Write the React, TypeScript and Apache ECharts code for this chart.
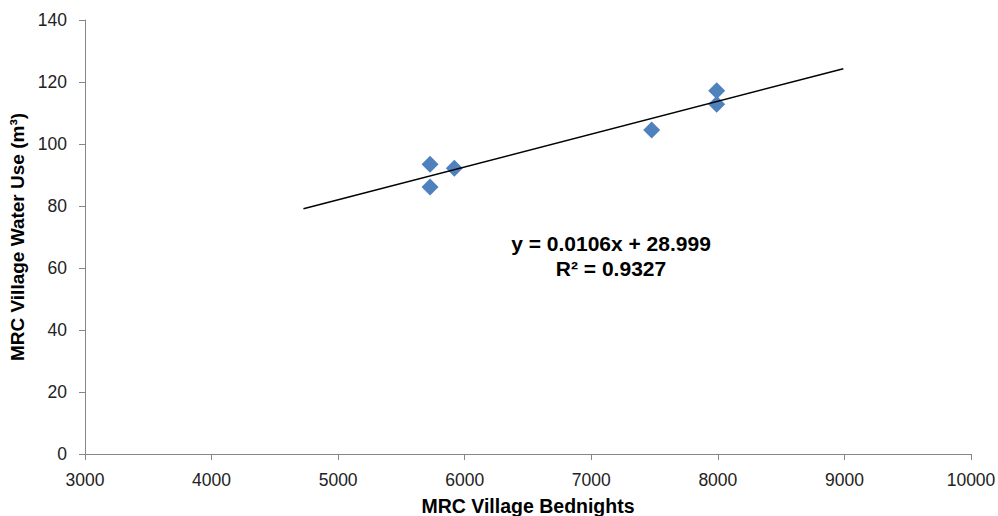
import React, { useEffect, useRef } from "react";
import * as echarts from "echarts";

const bednights = [5726, 5726, 5918, 7477, 7991, 7991];
const waterUse = [93.5, 86.1, 92.2, 104.5, 117.2, 112.8];
const trendSlope = 0.0106;
const trendIntercept = 28.999;
const trendX = [4726, 8991];
const equationLines = ["y = 0.0106x + 28.999", "R² = 0.9327"];

export default function App() {
  const ref = useRef<HTMLDivElement>(null);
  useEffect(() => {
    if (!ref.current) return;
    const chart = echarts.init(ref.current, null, { renderer: "svg" });
    const font = "'Liberation Sans', Arial, sans-serif";
    chart.setOption({
      animation: false,
      backgroundColor: "#ffffff",
      grid: { left: 85, right: 27, top: 20, bottom: 62, containLabel: false, outerBoundsMode: "none" },
      xAxis: {
        type: "value",
        min: 3000,
        max: 10000,
        interval: 1000,
        name: "MRC Village Bednights",
        nameLocation: "middle",
        nameGap: 42,
        nameTextStyle: { fontFamily: font, fontSize: 19.5, fontWeight: "bold", color: "#000" },
        axisLine: { show: true, lineStyle: { color: "#868686", width: 1 } },
        axisTick: { show: true, length: 6, lineStyle: { color: "#868686" } },
        axisLabel: { fontFamily: font, fontSize: 17.5, color: "#222", margin: 17, formatter: (v: number) => String(v) },
        splitLine: { show: false },
      },
      yAxis: {
        type: "value",
        min: 0,
        max: 140,
        interval: 20,
        name: "MRC Village Water Use (m³)",
        nameLocation: "middle",
        nameGap: 56,
        nameTextStyle: { fontFamily: font, fontSize: 19, fontWeight: "bold", color: "#000" },
        axisLine: { show: true, lineStyle: { color: "#868686", width: 1 } },
        axisTick: { show: true, length: 6, lineStyle: { color: "#868686" } },
        axisLabel: { fontFamily: font, fontSize: 17.5, color: "#222", margin: 18 },
        splitLine: { show: false },
      },
      series: [
        {
          type: "line",
          data: trendX.map((x) => [x, trendSlope * x + trendIntercept]),
          symbol: "none",
          lineStyle: { color: "#000", width: 1.5 },
          silent: true,
          z: 3,
        },
        {
          type: "scatter",
          data: bednights.map((x, i) => [x, waterUse[i]]),
          symbol: "diamond",
          symbolSize: 17,
          itemStyle: { color: "#4F81BD", opacity: 1 },
          z: 2,
        },
      ],
      graphic: [
        {
          type: "text",
          x: 611,
          y: 243,
          style: {
            text: equationLines[0],
            font: `bold 21px ${font}`,
            fill: "#000",
            align: "center",
            verticalAlign: "middle",
          },
        },
        {
          type: "text",
          x: 611,
          y: 268,
          style: {
            text: equationLines[1],
            font: `bold 21px ${font}`,
            fill: "#000",
            align: "center",
            verticalAlign: "middle",
          },
        },
      ],
    });
    return () => chart.dispose();
  }, []);
  return <div ref={ref} style={{ width: 998, height: 516, position: "absolute", left: 0, top: 0 }} />;
}
